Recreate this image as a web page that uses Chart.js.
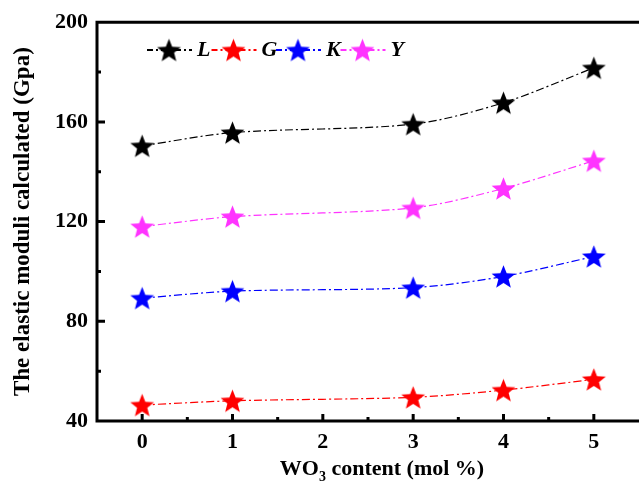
<!DOCTYPE html>
<html>
<head>
<meta charset="utf-8">
<script src="https://cdn.jsdelivr.net/npm/chart.js@4"></script>
<style>
html, body { margin: 0; padding: 0; background: #fff; overflow: hidden; }
</style>
</head>
<body>
<canvas id="moduliChart" width="639" height="493"></canvas>
<script>
// WO3 content (mol %) and the four moduli
const wo3Content = [0, 1, 3, 4, 5];
const xTicks = [0, 1, 2, 3, 4, 5];
const yTicks = [40, 80, 120, 160, 200];
const seriesNames = ['L', 'G', 'K', 'Y'];
const valuesL = [150.4, 155.7, 159.1, 167.7, 181.7];
const valuesG = [46.4, 48.1, 49.5, 52.4, 56.7];
const valuesK = [89.3, 92.1, 93.5, 98.0, 106.0];
const valuesY = [118.0, 122.0, 125.5, 133.3, 144.4];

const serif = '"Liberation Serif", "Times New Roman", serif';
const dashDot = [8, 3, 2, 3];

// filled five-point star used as the marker
function starImage(color, r) {
    const size = Math.ceil(r * 2 + 2);
    const c = document.createElement('canvas');
    c.width = c.height = size;
    const g = c.getContext('2d');
    const cx = size / 2, cy = size / 2 + r * 0.095;
    g.beginPath();
    for (let k = 0; k < 10; k++) {
        const rad = k % 2 === 0 ? r : r * 0.43;
        const ang = -Math.PI / 2 + k * Math.PI / 5;
        g.lineTo(cx + rad * Math.cos(ang), cy + rad * Math.sin(ang));
    }
    g.closePath();
    g.fillStyle = color;
    g.fill();
    return c;
}

function makeSeries(label, values, color) {
    return {
        label: label,
        data: wo3Content.map((x, i) => ({ x: x, y: values[i] })),
        borderColor: color,
        borderWidth: 1.2,
        borderDash: dashDot,
        tension: 0.3,
        pointStyle: starImage(color, 12.5),
        fill: false
    };
}

// inward ticks and the frame lines
const axesFrame = {
    id: 'axesFrame',
    beforeDatasetsDraw(chart) {
        const { ctx, chartArea: a, scales: { x, y } } = chart;
        ctx.save();
        ctx.strokeStyle = '#000';
        ctx.lineWidth = 3;
        ctx.beginPath();
        ctx.moveTo(a.left - 1.5, a.top); ctx.lineTo(chart.width, a.top);
        ctx.moveTo(a.left, a.top - 1.5); ctx.lineTo(a.left, a.bottom + 1.5);
        ctx.moveTo(a.left - 1.5, a.bottom); ctx.lineTo(chart.width, a.bottom);
        for (let v = 40; v <= 200; v += 20) {
            const py = y.getPixelForValue(v);
            const len = v % 40 === 0 ? 8 : 4;
            ctx.moveTo(a.left, py); ctx.lineTo(a.left + len, py);
        }
        for (let v = 0; v <= 5; v += 0.5) {
            const px = x.getPixelForValue(v);
            const len = Number.isInteger(v) ? 7 : 4;
            ctx.moveTo(px, a.bottom); ctx.lineTo(px, a.bottom - len);
        }
        ctx.stroke();
        ctx.restore();
    }
};

// x axis title with a real subscript 3
const xTitle = {
    id: 'xTitle',
    afterDraw(chart) {
        const ctx = chart.ctx;
        const big = 'bold 22px ' + serif, small = 'bold 14px ' + serif;
        const parts = [['WO', big, 0], ['3', small, 6], [' content (mol %)', big, 0]];
        ctx.save();
        ctx.fillStyle = '#000';
        ctx.textBaseline = 'alphabetic';
        let w = 0;
        parts.forEach(p => { ctx.font = p[1]; w += ctx.measureText(p[0]).width; });
        let x = 382 - w / 2;
        const base = 475;
        parts.forEach(p => {
            ctx.font = p[1];
            ctx.fillText(p[0], x, base + p[2]);
            x += ctx.measureText(p[0]).width;
        });
        ctx.restore();
    }
};

// one-row legend inside the plot: line, star, italic label
const legendRow = {
    id: 'legendRow',
    afterDraw(chart) {
        const ctx = chart.ctx;
        chart.data.datasets.forEach((ds, i) => {
            const x0 = 147 + i * 64.5, yc = 50;
            ctx.save();
            ctx.strokeStyle = ds.borderColor;
            ctx.lineWidth = 2;
            ctx.setLineDash([6, 3, 2, 3]);
            ctx.beginPath();
            ctx.moveTo(x0, yc); ctx.lineTo(x0 + 45, yc);
            ctx.stroke();
            ctx.setLineDash([]);
            const img = ds.pointStyle;
            ctx.drawImage(img, x0 + 22 - img.width / 2, yc - img.height / 2);
            ctx.fillStyle = '#000';
            ctx.font = 'italic bold 22px ' + serif;
            ctx.textBaseline = 'middle';
            ctx.fillText(ds.label, x0 + 50, yc);
            ctx.restore();
        });
    }
};

const ctx = document.getElementById('moduliChart').getContext('2d');
new Chart(ctx, {
    type: 'line',
    data: {
        datasets: [
            makeSeries(seriesNames[0], valuesL, '#000000'),
            makeSeries(seriesNames[1], valuesG, '#ff0000'),
            makeSeries(seriesNames[2], valuesK, '#0000ff'),
            makeSeries(seriesNames[3], valuesY, '#ff33ff')
        ]
    },
    options: {
        responsive: false,
        animation: false,
        layout: { autoPadding: false, padding: { left: 0, top: 21, right: 0, bottom: 0 } },
        plugins: {
            legend: { display: false },
            tooltip: { enabled: false }
        },
        scales: {
            x: {
                type: 'linear',
                min: -0.5,
                max: 5.5,
                afterBuildTicks: s => { s.ticks = xTicks.map(v => ({ value: v })); },
                afterFit: s => { s.height = 72; s.paddingLeft = 0; s.paddingRight = 0; },
                grid: { display: false, drawTicks: false },
                border: { display: false },
                ticks: {
                    color: '#000',
                    padding: 8,
                    font: { family: serif, size: 22, weight: 'bold' }
                }
            },
            y: {
                min: 40,
                max: 200,
                afterBuildTicks: s => { s.ticks = yTicks.map(v => ({ value: v })); },
                afterFit: s => { s.width = 97; },
                grid: { display: false, drawTicks: false },
                border: { display: false },
                ticks: {
                    color: '#000',
                    padding: 9,
                    font: { family: serif, size: 22, weight: 'bold' }
                },
                title: {
                    display: true,
                    text: 'The elastic moduli calculated (Gpa)',
                    color: '#000',
                    font: { family: serif, size: 23, weight: 'bold' },
                    padding: { top: 9, bottom: 0 }
                }
            }
        }
    },
    plugins: [axesFrame, xTitle, legendRow]
});
</script>
</body>
</html>
